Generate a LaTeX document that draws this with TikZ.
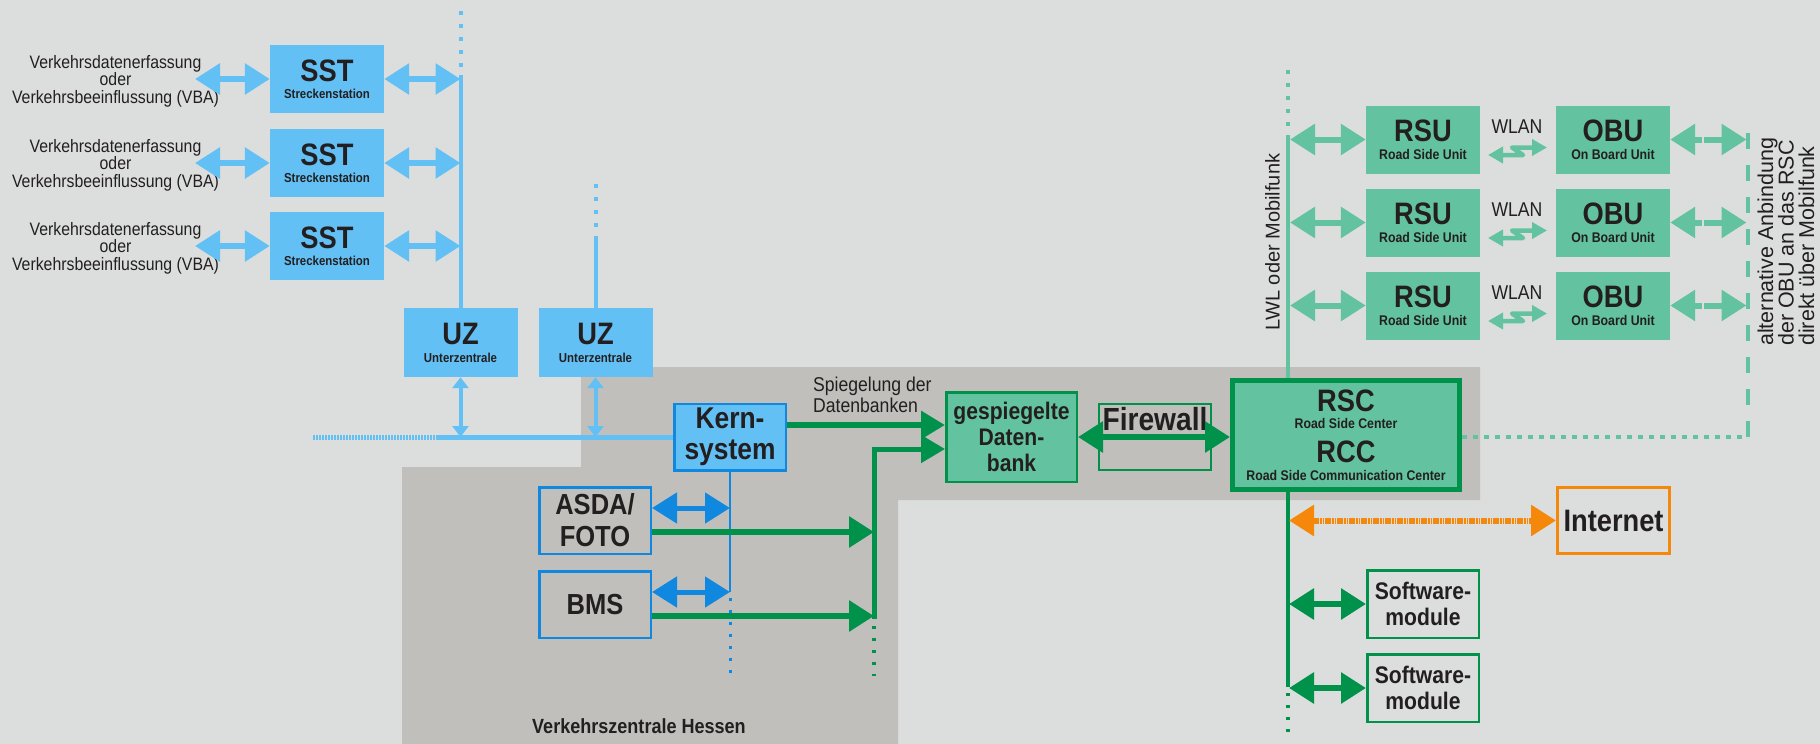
\documentclass[tikz,border=0pt]{standalone}
\usepackage{fontspec}
\setmainfont{Liberation Sans}
\newfontfamily\cnd[FakeStretch=0.88]{Liberation Sans}
\usetikzlibrary{arrows.meta}
\pgfdeclarelayer{bg}
\pgfsetlayers{bg,main}
\newcommand\myfs[2]{\fontsize{#1}{#2}\selectfont}
\definecolor{bgc}{HTML}{DCDEDD}
\definecolor{zone}{HTML}{C1BFBC}
\definecolor{lblue}{HTML}{62C0F4}
\definecolor{dblue}{HTML}{1188E0}
\definecolor{lgreen}{HTML}{63C3A0}
\definecolor{dgreen}{HTML}{00914A}
\definecolor{orng}{HTML}{F5870A}
\definecolor{txt}{HTML}{231F20}
\tikzset{
  box/.style={minimum width=114pt, minimum height=68pt, inner sep=0pt, align=center, text=txt},
  bluebox/.style={box, fill=lblue, font=\cnd\bfseries\myfs{13}{17}},
  greenbox/.style={box, fill=lgreen, font=\cnd\bfseries\myfs{14}{18}},
  lbl/.style={text=txt, inner sep=0pt},
  dbl/.style={line width=6pt, {Triangle[length=25pt,width=30pt]}-{Triangle[length=25pt,width=30pt]}},
  sgl/.style={line width=6pt, -{Triangle[length=24pt,width=27pt]}},
  sdbl/.style={line width=4pt, {Triangle[length=11pt,width=16pt]}-{Triangle[length=11pt,width=16pt]}},
  wlarrow/.style={color=lgreen, line width=4.5pt, line join=round, {Triangle[length=15pt,width=16pt]}-{Triangle[length=15pt,width=16pt]}},
  dotl/.style={line width=4pt, dash pattern=on 4pt off 9pt},
}
\begin{document}
\begin{tikzpicture}[x=1pt,y=-1pt]
\useasboundingbox (0,0) rectangle (1820,744);
\begin{pgfonlayer}{bg}
  \fill[bgc] (0,0) rectangle (1820,744);
  \fill[zone] (402,744) -- (402,467) -- (581,467) -- (581,367) -- (1480,367) -- (1480,500) -- (898,500) -- (898,744) -- cycle;
\end{pgfonlayer}

% ---------- left: SST ----------
\foreach \i/\y in {1/79,2/163,3/246}{
  \node[bluebox] (sst\i) at (327,\y) {{\myfs{31}{31}SST}\\Streckenstation};
  \node[lbl, align=center, font=\cnd\myfs{18}{17.5}] (vde\i) at (115.5,\y+2) {Verkehrsdatenerfassung\\oder\\Verkehrsbeeinflussung (VBA)};
  \coordinate (sl\i) at (195,\y);
  \coordinate (sr\i) at (460.5,\y);
  \draw[color=lblue, dbl] (sl\i) -- (sst\i.west);
  \draw[color=lblue, dbl] (sst\i.east) -- (sr\i);
}

% ---------- UZ ----------
\node[bluebox, font=\cnd\bfseries\myfs{13}{18}, minimum height=69pt] (uz1) at (460.5,342.5) {{\myfs{31}{31}UZ}\\Unterzentrale};
\node[bluebox, font=\cnd\bfseries\myfs{13}{18}, minimum height=69pt] (uz2) at (595.5,342.5) {{\myfs{31}{31}UZ}\\Unterzentrale};

% ---------- Kern, ASDA, BMS ----------
\node[box, fill=lblue, draw=dblue, line width=2.5pt, minimum width=111.5pt, minimum height=66.5pt, font=\cnd\bfseries\myfs{30}{31}] (kern) at (730,437) {Kern-\\system};
\node[box, draw=dblue, line width=2.5pt, minimum width=111.5pt, minimum height=66.5pt, font=\cnd\bfseries\myfs{29}{32}] (asda) at (595,520.5) {ASDA/\\FOTO};
\node[box, draw=dblue, line width=2.5pt, minimum width=111.5pt, minimum height=66.5pt, font=\cnd\bfseries\myfs{29}{32}] (bms) at (595,604.5) {BMS};

% ---------- gespiegelte Datenbank, Firewall, RSC ----------
\node[box, fill=lgreen, draw=dgreen, line width=2.5pt, minimum width=130.5pt, minimum height=89.5pt, font=\cnd\bfseries\myfs{24}{26}] (gesp) at (1011.5,437) {gespiegelte\\Daten-\\bank};
\node[box, draw=dgreen, line width=2pt, minimum width=112pt, minimum height=66pt] (fw) at (1155,437) {};
\node[lbl, fill=zone, inner sep=1pt, font=\cnd\bfseries\myfs{32}{32}] (fwl) at (1155,419.5) {Firewall};
\node[box, fill=lgreen, draw=dgreen, line width=5pt, minimum width=227pt, minimum height=109pt, font=\cnd\bfseries\myfs{14}{17.5}] (rsc) at (1346,435) {{\myfs{31}{31}RSC}\\Road Side Center\\[11.5pt]{\myfs{31}{31}RCC}\\Road Side Communication Center};

% ---------- Internet, Software ----------
\node[box, draw=orng, line width=3pt, minimum width=112pt, minimum height=66pt, font=\cnd\bfseries\myfs{31}{31}] (inet) at (1613.5,520.5) {Internet};
\node[box, draw=dgreen, line width=2.5pt, minimum width=111.5pt, minimum height=67.5pt, font=\cnd\bfseries\myfs{24}{26}] (sw1) at (1423,604) {Software-\\module};
\node[box, draw=dgreen, line width=2.5pt, minimum width=111.5pt, minimum height=67.5pt, font=\cnd\bfseries\myfs{24}{26}] (sw2) at (1423,688) {Software-\\module};

% ---------- labels ----------
\node[lbl, anchor=west, align=left, font=\cnd\myfs{20}{21}] (spl) at (813,395) {Spiegelung der\\Datenbanken};
\node[lbl, anchor=base west, font=\cnd\bfseries\myfs{20.5}{20.5}] (vzh) at (532,733) {Verkehrszentrale Hessen};
\node[lbl, rotate=90, font=\myfs{20}{20}] (lwl) at (1272.5,242) {LWL oder Mobilfunk};
\node[lbl, rotate=90, anchor=west, align=left, font=\myfs{21.5}{20.5}] (alt) at (1786,346) {alternative Anbindung\\der OBU an das RSC\\direkt über Mobilfunk};

% ---------- blue bus ----------
\coordinate (t1a) at (460.5,11);
\coordinate (t1) at (460.5,75);
\draw[lblue, dotl] (t1a) -- (t1);
\draw[lblue, line width=4pt] (t1) -- (uz1.north);
\coordinate (t2a) at (595.5,184);
\coordinate (t2) at (595.5,240);
\draw[lblue, dotl] (t2a) -- (t2);
\draw[lblue, line width=4pt] (t2) -- (uz2.north);
\coordinate (busa) at (313,437);
\coordinate (busb) at (437,437);
\draw[lblue, line width=5pt, dash pattern=on 2pt off 1pt] (busa) -- (busb);
\draw[lblue, line width=5pt] (busb) -- (kern.west);
\draw[color=lblue, sdbl] (uz1.south) -- (uz1.south |- busb);
\draw[color=lblue, sdbl] (uz2.south) -- (uz2.south |- busb);

% ---------- dark blue ----------
\coordinate (kb) at (730,592);
\coordinate (kd1) at (730,598);
\coordinate (kd2) at (730,676);
\draw[dblue, line width=2.5pt] (kern.south) -- (kb);
\draw[dblue, line width=3pt, dash pattern=on 3pt off 9pt] (kd1) -- (kd2);
\coordinate (ka) at (730,508);
\draw[color=dblue, dbl, line width=5pt] ([yshift=12.5pt]asda.east) -- (ka);
\draw[color=dblue, dbl, line width=5pt] ([yshift=12.5pt]bms.east) -- (kb);

% ---------- green to gespiegelte ----------
\coordinate (kg) at (0,425);
\draw[color=dgreen, sgl] (kern.east |- kg) -- (gesp.west |- kg);
\coordinate (j1) at (874,532);
\coordinate (j2) at (874,616);
\coordinate (jb) at (874,618.5);
\coordinate (j3) at (874,449);
\draw[color=dgreen, line width=5pt, line join=miter, -{Triangle[length=24pt,width=27pt]}] (jb) -- (j3) -- (gesp.west |- j3);
\draw[color=dgreen, sgl, -{Triangle[length=25pt,width=30pt]}] ([yshift=-11.5pt]asda.east) -- (j1);
\draw[color=dgreen, sgl, -{Triangle[length=25pt,width=30pt]}] ([yshift=-11.5pt]bms.east) -- (j2);
\coordinate (jd1) at (874,626);
\coordinate (jd2) at (874,676);
\draw[dgreen, line width=4pt, dash pattern=on 3pt off 9pt] (jd1) -- (jd2);

% ---------- firewall arrow ----------
\draw[color=dgreen, dbl] (gesp.east) -- (rsc.west |- gesp.east);

% ---------- RSC right dotted / dashed ----------
\coordinate (alt1) at (1748,437);
\coordinate (alt2) at (1748,131);
\draw[lgreen, line width=4pt, dash pattern=on 5pt off 6pt] (rsc.east |- alt1) -- (alt1);
\draw[lgreen, line width=4pt, dash pattern=on 16pt off 16pt] (alt1) -- (alt2);

% ---------- LWL line ----------
\coordinate (lwa) at (1288,70);
\coordinate (lwb) at (1288,135);
\draw[lgreen, dotl] (lwa) -- (lwb);
\draw[lgreen, line width=4pt] (lwb) -- (lwb |- rsc.north);

% ---------- RSU / OBU ----------
\foreach \i/\y in {1/139.5,2/222.5,3/305.5}{
  \node[greenbox] (rsu\i) at (1423,\y) {{\myfs{31}{31}RSU}\\Road Side Unit};
  \node[greenbox] (obu\i) at (1613,\y) {{\myfs{31}{31}OBU}\\On Board Unit};
  \node[lbl, font=\cnd\myfs{20}{20}] (wl\i) at (1517,\y-12.5) {WLAN};
  \coordinate (ra\i) at (1290,\y);
  \draw[color=lgreen, dbl] (ra\i) -- (rsu\i.west);
  \coordinate (ga\i) at (1702,\y);
  \coordinate (gb\i) at (1704,\y);
  \coordinate (ge\i) at (1746.5,\y);
  \draw[color=lgreen, line width=6pt, {Triangle[length=25pt,width=30pt]}-] (obu\i.east) -- (ga\i);
  \draw[color=lgreen, line width=6pt, -{Triangle[length=25pt,width=30pt]}] (gb\i) -- (ge\i);
  \draw[wlarrow] ([shift={(-29,28)}]wl\i.center) -- ([shift={(6,28)}]wl\i.center) -- ([shift={(-5,20.5)}]wl\i.center) -- ([shift={(30,20.5)}]wl\i.center);
}

% ---------- dark green below RSC ----------
\coordinate (dg) at (1288,687);
\coordinate (dga) at (1288,693);
\coordinate (dgb) at (1288,736);
\draw[dgreen, line width=4pt] (rsc.south -| dg) -- (dg);
\draw[dgreen, line width=4pt, dash pattern=on 3pt off 9pt] (dga) -- (dgb);
\coordinate (ia) at (1289,520.5);
\draw[color=orng, dbl, dash pattern=on 6pt off 1pt on 2pt off 1pt on 1pt off 1pt] (ia) -- (inet.west);
\coordinate (sa1) at (1289,604);
\coordinate (sa2) at (1289,688);
\draw[color=dgreen, dbl] (sa1) -- (sw1.west);
\draw[color=dgreen, dbl] (sa2) -- (sw2.west);
\end{tikzpicture}
\end{document}
